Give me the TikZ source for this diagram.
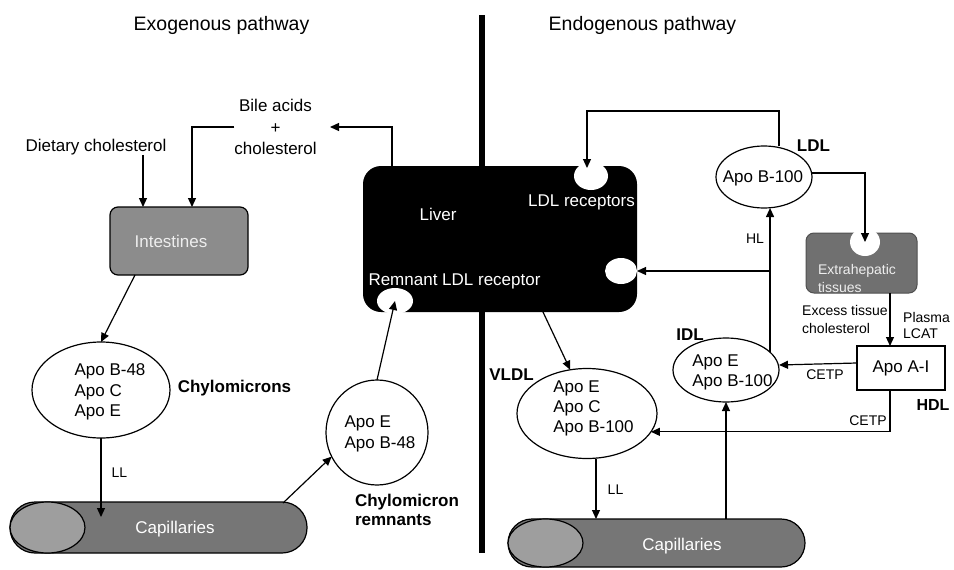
\documentclass[tikz,border=0pt]{standalone}
\usepackage{fontspec}
\setmainfont{Liberation Sans}
\usetikzlibrary{arrows.meta,shapes.geometric,calc}
\definecolor{intgray}{RGB}{140,140,140}
\definecolor{capgray}{RGB}{118,118,118}
\definecolor{caplight}{RGB}{158,158,158}
\definecolor{extgray}{RGB}{112,112,112}
\definecolor{extborder}{RGB}{80,80,80}
\definecolor{lighttext}{RGB}{238,238,238}
\begin{document}
\begin{tikzpicture}[x=1pt,y=-1pt,
  every node/.style={inner sep=0pt, outer sep=0pt},
  lbl/.style={font=\fontsize{17}{20.5}\selectfont, align=left},
  sml/.style={font=\fontsize{14}{17.5}\selectfont, align=left},
  bld/.style={font=\fontsize{17}{19}\selectfont\bfseries, align=left},
  ttl/.style={font=\fontsize{19.5}{22}\selectfont},
  arr/.style={draw, line width=1.2pt, -{Triangle[length=9pt,width=8pt]}},
  ln/.style={draw, line width=1.2pt},
  ell/.style={ellipse, draw, line width=1.2pt, fill=white},
  notch/.style={ellipse, fill=white},
]
\useasboundingbox (0,0) rectangle (954,570);

% titles
\node[ttl] (t1) at (221.5,25) {Exogenous pathway};
\node[ttl] (t2) at (642.5,25) {Endogenous pathway};

% divider
\draw[line width=6pt] (482,15) -- (482,553);

% ---------- exogenous ----------
\node[lbl] (diet) at (96,147) {Dietary cholesterol};
\node[lbl, align=center, font=\fontsize{17}{21.5}\selectfont] (bile) at (275.5,127) {Bile acids\\+\\cholesterol};
\node[draw, line width=1.2pt, fill=intgray, rounded corners=8pt,
      minimum width=138pt, minimum height=68pt] (intest) at (179,241) {};
\node[lbl, text=lighttext] (intestt) at (171,241) {Intestines};

\coordinate (dx) at (143,0);
\coordinate (bx) at (192,0);
\draw[arr] (diet.south -| dx) -- (intest.north -| dx);
\draw[arr] (bile.west) -| (intest.north -| bx);

\node[ell, minimum width=138pt, minimum height=96pt] (chylo) at (101,390) {};
\node[lbl] (chylot) at (110,392) {Apo B-48\\Apo C\\Apo E};
\node[bld] (chylol) at (234.5,388) {Chylomicrons};
\draw[arr] ($(intest.south west)+(25,0)$) -- (chylo.north);

\node[draw, line width=1.2pt, fill=capgray, rounded corners=25pt,
      minimum width=297pt, minimum height=51pt] (capL) at (158.5,527.5) {};
\node[ell, fill=caplight, minimum width=75pt, minimum height=51pt] (capLi) at (47.5,527.5) {};
\node[lbl, text=white] (capLt) at (175,529) {Capillaries};

\draw[arr] (chylo.south) -- ($(chylo.south |- capL.north)+(0,15)$);
\node[sml] (ll1) at (119.5,473) {LL};

\node[ell, minimum width=102pt, minimum height=105pt] (rem) at (377,432.5) {};
\node[lbl, font=\fontsize{17}{21}\selectfont] (remt) at (380,433.5) {Apo E\\Apo B-48};
\node[bld] (reml) at (407,510) {Chylomicron\\remnants};
\draw[arr] ($(capL.north east)+(-24,1)$) -- (rem.208);

% ---------- liver ----------
\node[fill=black, rounded corners=18pt, minimum width=274pt, minimum height=146pt] (liver) at (500,239) {};
\node[notch, minimum width=34pt, minimum height=28pt] (lrn) at (591,176) {};
\node[notch, minimum width=32pt, minimum height=26pt] (rn2) at (621,271) {};
\node[notch, minimum width=36pt, minimum height=26pt] (rrn) at (395,301) {};
\node[lbl, text=white] (livert) at (438,214) {Liver};
\node[lbl, text=white] (rrnt) at (454.5,281) {Remnant LDL receptor};
\node[lbl, text=white] (lrnt) at (581.5,202) {LDL receptors};

\coordinate (bt) at (330,127);
\draw[arr] ($(liver.north west)+(29,0)$) |- (bt);
\draw[arr] (rem.north) -- (rrn.center);

% ---------- endogenous ----------
\node[ell, minimum width=140pt, minimum height=90pt] (vldl) at (587,413.5) {};
\node[lbl, font=\fontsize{17}{20}\selectfont] (vldlt) at (593.5,408) {Apo E\\Apo C\\Apo B-100};
\node[bld] (vldll) at (511.5,375) {VLDL};
\draw[arr] ($(liver.south west)+(180,0)$) -- (vldl.111);

\node[ell, minimum width=106pt, minimum height=64pt] (idl) at (726,370) {};
\node[lbl, font=\fontsize{17}{20}\selectfont] (idlt) at (732.5,372) {Apo E\\Apo B-100};
\node[bld] (idll) at (690,335) {IDL};

\node[ell, minimum width=96pt, minimum height=62pt] (ldl) at (764,177) {};
\node[lbl] (ldlt) at (763,178) {Apo B-100};
\node[bld] (ldll) at (813.5,146) {LDL};

\node[draw=extborder, line width=1pt, fill=extgray, rounded corners=8pt,
      minimum width=111pt, minimum height=60pt] (extra) at (861.5,263) {};
\node[notch, minimum width=30pt, minimum height=28pt] (en) at (865,242) {};
\node[sml, font=\fontsize{14}{18}\selectfont, text=lighttext] (extrat) at (857,278) {Extrahepatic\\tissues};

\node[draw, line width=1.2pt, fill=white, minimum width=88pt, minimum height=44pt] (apoa) at (901,368) {};
\node[lbl] (apoat) at (901,368) {Apo A-I};
\node[bld, font=\fontsize{16}{19}\selectfont\bfseries] (hdll) at (933,405) {HDL};

\node[sml, font=\fontsize{14}{18}\selectfont] (excess) at (845,319) {Excess tissue\\cholesterol};
\node[sml, font=\fontsize{14}{16}\selectfont] (plasma) at (926.5,325) {Plasma\\LCAT};

\node[draw, line width=1.2pt, fill=capgray, rounded corners=24pt,
      minimum width=297pt, minimum height=48pt] (capR) at (656.5,543) {};
\node[ell, fill=caplight, minimum width=75pt, minimum height=48pt] (capRi) at (545.5,543) {};
\node[lbl, text=white] (capRt) at (682,546) {Capillaries};

% connectors right
\coordinate (looptop) at (587,111);
\draw[arr] ($(ldl.north)+(15,0)$) |- (looptop) -- ($(looptop |- lrn.center)+(0,-8)$);
\draw[arr] ($(ldl.east)+(0,-4)$) -| (en.center);
\draw[arr] (idl.22) -- (idl.22 |- ldl.south);
\node[sml] (hl) at (755,239) {HL};
\draw[arr] (idl.22 |- rn2.center) -- (rn2.east);

\coordinate (ax) at (890,0);
\draw[arr] (extra.south -| ax) -- (apoa.north -| ax);
\draw[arr] ($(apoa.west)+(0,-5)$) -- ($(idl.east)+(0,-5)$);
\node[sml] (cetp1) at (825,375) {CETP};
\draw[arr] (apoa.south -| ax) |- (vldl.-16);
\node[sml] (cetp2) at (868,421) {CETP};

\draw[arr] (idl.south |- capR.north) -- (idl.south);
\draw[arr] ($(vldl.south)+(9,0)$) -- ($(vldl.south |- capR.north)+(9,0)$);
\node[sml] (ll2) at (615.5,490) {LL};

\end{tikzpicture}
\end{document}
